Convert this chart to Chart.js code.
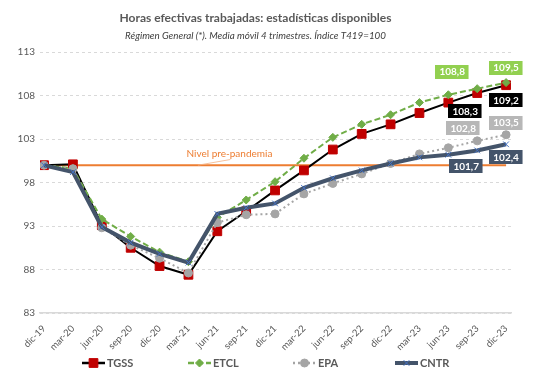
<!DOCTYPE html>
<html><head><meta charset="utf-8">
<script src="https://cdn.jsdelivr.net/npm/chart.js@4.4.1/dist/chart.umd.min.js"></script>
<style>html,body{margin:0;padding:0;background:#fff}#wrap{width:541px;height:383px;position:relative}</style>
</head><body><div id="wrap"><canvas id="c"></canvas></div>
<script>
const categories = ['dic-19','mar-20','jun-20','sep-20','dic-20','mar-21','jun-21','sep-21','dic-21','mar-22','jun-22','sep-22','dic-22','mar-23','jun-23','sep-23','dic-23'];
const tgss = [100,100.1,93.1,90.5,88.4,87.4,92.4,94.7,97.1,99.4,101.8,103.6,104.7,106.0,107.2,108.3,109.2];
const etcl = [100,99.6,93.8,91.8,90.0,88.9,94.0,96.0,98.1,100.8,103.2,104.7,105.8,107.2,108.1,108.8,109.5];
const epa  = [100,99.6,92.8,90.8,89.3,87.6,93.4,94.3,94.4,96.7,97.9,99.0,100.2,101.3,102.0,102.8,103.5];
const cntr = [100,99.2,92.9,91.1,89.8,88.8,94.4,95.1,95.6,97.4,98.5,99.4,100.2,100.9,101.2,101.7,102.4];
const preLevel = [100,100,100,100,100,100,100,100,100,100,100,100,100,100,100,100,100];
const yTicks = [83,88,93,98,103,108,113];
const seriesNames = ['TGSS','ETCL','EPA','CNTR'];
const refLabel = 'Nivel pre-pandemia';
const titleText = 'Horas efectivas trabajadas: estadísticas disponibles';
const subtitleText = 'Régimen General (*). Media móvil 4 trimestres. Índice T419=100';

const FONT = 'Lato, "Open Sans", sans-serif';
const pts = arr => arr.map((v,i)=>({x:i,y:v}));

// label styles (position offsets in px, colours)
const labelStyle = [
  {bg:'#000000', off:[[-12,18],[0,15]]},
  {bg:'#92d050', off:[[-25,-17],[0,-15]]},
  {bg:'#b7b7b7', off:[[-14,-13],[0,-12]]},
  {bg:'#44546a', off:[[-11,16],[0,13]]}
];
const labelIdx = [15,16];

function drawMarker(ctx, ds, x, y){
  Chart.helpers.drawPoint(ctx, {pointStyle: ds.pointStyle, rotation:0, radius: ds.pointRadius, borderWidth: ds.pointBorderWidth}, x, y);
}

const overlay = {
  id:'overlay',
  afterDatasetsDraw(chart){
    const ctx = chart.ctx, xs = chart.scales.x, ys = chart.scales.y;
    ctx.save();
    ctx.strokeStyle = '#f4b183'; ctx.lineWidth = 0.8;
    ctx.beginPath();
    ctx.moveTo(xs.getPixelForValue(5.33), ys.getPixelForValue(100));
    ctx.lineTo(xs.getPixelForValue(6.45), ys.getPixelForValue(100.65));
    ctx.stroke();
    ctx.fillStyle = '#ed7d31'; ctx.font = '10px ' + FONT;
    ctx.textAlign = 'center'; ctx.textBaseline = 'middle';
    ctx.fillText(refLabel, xs.getPixelForValue(6.42), ys.getPixelForValue(101.35));
    ctx.font = 'bold 10px ' + FONT;
    [0,1,2,3].forEach(d=>{
      const meta = chart.getDatasetMeta(d);
      labelIdx.forEach((idx,k)=>{
        const el = meta.data[idx];
        const v = chart.data.datasets[d].data[idx].y;
        const txt = v.toFixed(1).replace('.',',');
        const st = labelStyle[d];
        const cx = el.x + st.off[k][0], cy = el.y + st.off[k][1];
        const w = ctx.measureText(txt).width + 8, h = 14;
        ctx.fillStyle = st.bg;
        ctx.fillRect(Math.round(cx - w/2), Math.round(cy - h/2), w, h);
        ctx.fillStyle = '#ffffff';
        ctx.fillText(txt, cx, cy + 0.5);
      });
    });
    ctx.restore();
  },
  afterDraw(chart){
    const ctx = chart.ctx;
    const xsPos = [82, 188, 293, 395];
    const ly = 363;
    ctx.save();
    ctx.font = 'bold 11px ' + FONT;
    ctx.textBaseline = 'middle'; ctx.textAlign = 'left';
    [0,1,2,3].forEach(d=>{
      const ds = chart.data.datasets[d];
      const x0 = xsPos[d];
      ctx.save();
      ctx.strokeStyle = ds.borderColor; ctx.lineWidth = Math.max(ds.borderWidth, 2.5);
      ctx.setLineDash(ds.borderDash || []);
      ctx.beginPath(); ctx.moveTo(x0, ly); ctx.lineTo(x0+23, ly); ctx.stroke();
      ctx.setLineDash([]);
      ctx.fillStyle = ds.pointBackgroundColor; ctx.strokeStyle = ds.pointBorderColor; ctx.lineWidth = ds.pointBorderWidth;
      drawMarker(ctx, ds, x0+11.5, ly);
      ctx.restore();
      ctx.fillStyle = '#595959';
      ctx.fillText(seriesNames[d], x0+25, ly);
    });
    ctx.restore();
  }
};

new Chart(document.getElementById('c'), {
  type:'line',
  data:{
    datasets:[
      {label:seriesNames[0], data:pts(tgss), borderColor:'#000000', borderWidth:2, pointStyle:'rect', pointRadius:6.2, pointBackgroundColor:'#c00000', pointBorderColor:'#c00000', pointBorderWidth:1, order:4, tension:0},
      {label:seriesNames[1], data:pts(etcl), borderColor:'#70ad47', borderWidth:2, borderDash:[6,3], pointStyle:'rectRot', pointRadius:4, pointBackgroundColor:'#70ad47', pointBorderColor:'#70ad47', pointBorderWidth:1, order:3, tension:0},
      {label:seriesNames[2], data:pts(epa), borderColor:'#a5a5a5', borderWidth:2, borderDash:[2,3], pointStyle:'circle', pointRadius:4, pointBackgroundColor:'#a5a5a5', pointBorderColor:'#a5a5a5', pointBorderWidth:1, order:2, tension:0},
      {label:seriesNames[3], data:pts(cntr), borderColor:'#44546a', borderWidth:4, pointStyle:'crossRot', pointRadius:4, pointBackgroundColor:'#4472c4', pointBorderColor:'#4472c4', pointBorderWidth:1, order:1, tension:0},
      {label:refLabel, data:pts(preLevel), borderColor:'#ed7d31', borderWidth:2, pointRadius:0, order:5, tension:0}
    ]
  },
  options:{
    responsive:true, maintainAspectRatio:false, animation:false,
    layout:{padding:{left:0,right:30,top:0,bottom:30}},
    plugins:{
      legend:{display:false},
      tooltip:{enabled:false},
      title:{display:true, text:titleText, color:'#595959', font:{family:FONT, size:12, weight:'bold'}, padding:{top:11,bottom:2}},
      subtitle:{display:true, text:subtitleText, color:'#404040', font:{family:FONT, size:9.8, style:'italic'}, padding:{top:3,bottom:10}}
    },
    scales:{
      x:{type:'linear', min:-0.14, max:16.17,
        afterBuildTicks(s){ s.ticks = categories.map((_,i)=>({value:i})); },
        afterFit(s){ s.height = 40; },
        ticks:{autoSkip:false, minRotation:45, maxRotation:45, padding:2, color:'#595959', font:{family:FONT,size:9.5}, callback:(v)=>categories[v]},
        grid:{display:false},
        border:{display:true, color:'#d9d9d9', width:1.5}
      },
      y:{min:83, max:113,
        afterBuildTicks(s){ s.ticks = yTicks.map(v=>({value:v})); },
        afterFit(s){ s.width = 40; },
        ticks:{padding:5, color:'#595959', font:{family:FONT,size:10}},
        grid:{color:'#d9d9d9', lineWidth:1, drawTicks:false},
        border:{display:false, dash:[3,3]}
      }
    }
  },
  plugins:[overlay]
});
</script></body></html>
